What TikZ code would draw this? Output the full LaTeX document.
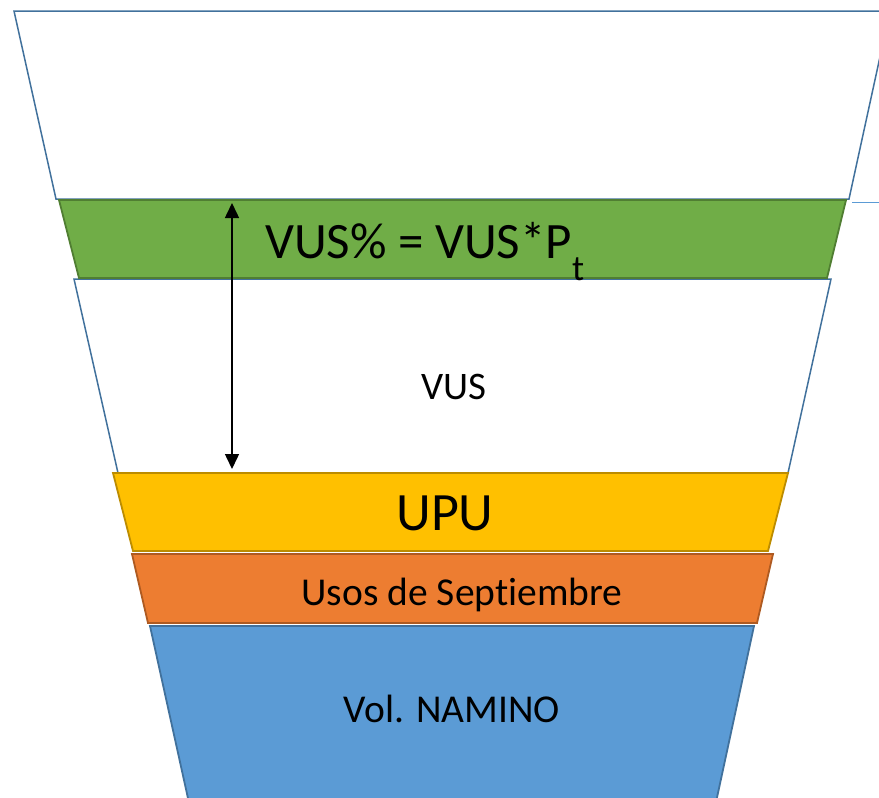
\documentclass[tikz,border=0pt]{standalone}
\usepackage{fontspec}
\setmainfont{Carlito}[Ligatures={NoCommon}]
\usetikzlibrary{arrows.meta, positioning}

\definecolor{funnelblue}{RGB}{65,113,156}
\definecolor{lightline}{RGB}{91,155,213}
\definecolor{vusgreen}{RGB}{112,173,71}
\definecolor{vusgreendark}{RGB}{80,126,50}
\definecolor{upugold}{RGB}{255,192,0}
\definecolor{upugolddark}{RGB}{188,140,0}
\definecolor{usosorange}{RGB}{237,125,49}
\definecolor{usosorangedark}{RGB}{174,90,33}
\definecolor{namiblue}{RGB}{91,155,213}
\definecolor{namibluedark}{RGB}{65,113,156}

\tikzset{
  funnel/.style={draw=funnelblue, fill=white, line width=1.5pt},
  layer/.style={line width=1.8pt},
  lbl/.style={inner sep=0pt, anchor=base, text=black}
}

\begin{document}
\begin{tikzpicture}[x=1pt, y=-1pt]
  \useasboundingbox (0,0) rectangle (879,798);
  \clip (0,0) rectangle (879,798);

  % funnel body
  \draw[funnel] (14,11) -- (890,11) -- (849,199) -- (56,199) -- cycle;
  \draw[funnel] (74,279) -- (831,279) -- (788,473) -- (118,473) -- cycle;
  \draw[lightline, line width=1pt] (852,202) -- (879,202);

  % layers
  \draw[layer, draw=vusgreendark, fill=vusgreen]
    (59,200) -- (846,200) -- (827,278) -- (79,278) -- cycle;
  \draw[layer, draw=upugolddark, fill=upugold]
    (113,473) -- (788,473) -- (768,551) -- (133,551) -- cycle;
  \draw[layer, draw=usosorangedark, fill=usosorange]
    (132,554) -- (773,554) -- (757,623) -- (148,623) -- cycle;
  \draw[layer, draw=namibluedark, fill=namiblue]
    (150,626) -- (754,626) -- (710,830) -- (195,830) -- cycle;

  % labels
  \node[lbl, anchor=base west, font=\fontsize{51}{51}\selectfont] (vusp) at (265,258)
    {VUS\% = VUS*P\raisebox{-22pt}{\fontsize{36}{36}\selectfont t}};
  \node[lbl, font=\fontsize{39}{39}\selectfont] (vus) at (454,399) {VUS};
  \node[lbl, font=\fontsize{54}{54}\selectfont] (upu) at (445,530) {UPU};
  \node[lbl, font=\fontsize{39.5}{39.5}\selectfont] (usos) at (462,605) {Usos de Septiembre};
  \node[lbl, font=\fontsize{39.5}{39.5}\selectfont] (namino) at (452,722) {Vol. NAMINO};

  % VUS span
  \coordinate (spantop) at (232,203);
  \coordinate (spanbot) at (232,469);
  \draw[{Triangle[length=15pt,width=14pt]}-{Triangle[length=15pt,width=14pt]}, line width=1.5pt]
    (spantop) -- (spanbot);
\end{tikzpicture}
\end{document}
